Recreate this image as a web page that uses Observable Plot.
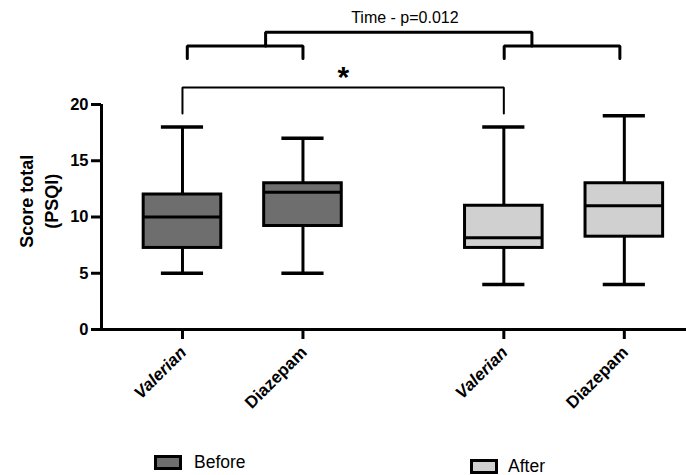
<!DOCTYPE html>
<html>
<head>
<meta charset="utf-8">
<script src="https://cdn.jsdelivr.net/npm/d3@7"></script>
<script src="https://cdn.jsdelivr.net/npm/@observablehq/plot@0.6"></script>
<style>
  html, body { margin: 0; padding: 0; background: #fff; }
  #wrap { position: relative; width: 686px; height: 475px; overflow: hidden; font-family: "Liberation Sans", Arial, sans-serif; color: #000; }
  #chart svg { display: block; overflow: visible; }
  .leg-sw { position: absolute; box-sizing: border-box; border: 3px solid #000; }
  .leg-tx { position: absolute; font-size: 17.5px; line-height: 17.5px; white-space: nowrap; }
</style>
</head>
<body>
<div id="wrap">
  <div id="chart"></div>
  <div id="legend"></div>
</div>
<script>
// ---- data ----
const groups    = ["Before", "Before", "After", "After"];
const drugs     = ["Valerian", "Diazepam", "Valerian", "Diazepam"];
const positions = [1, 2, 3.667, 4.667];
const mins      = [5, 5, 4, 4];
const q1s       = [7.25, 9.2, 7.25, 8.25];
const medians   = [10, 12.2, 8.15, 11];
const q3s       = [12, 13, 11, 13];
const maxs      = [18, 17, 18, 19];
const yTicks    = [0, 5, 10, 15, 20];
const legendGroups = ["Before", "After"];
const groupColors  = ["#6e6e6e", "#d0d0d0"];

// annotation brackets (x in category positions, y in score units)
const timeBracketLeft  = [[1.04, 24.1], [1.04, 25.2], [2.0, 25.2], [2.0, 24.1]];
const timeBracketTop   = [[1.69, 25.2], [1.69, 26.43], [3.9, 26.43], [3.9, 25.2]];
const timeBracketRight = [[3.67, 24.1], [3.67, 25.2], [4.63, 25.2], [4.63, 24.1]];
const starBracket      = [[1, 19.2], [1, 21.51], [3.667, 21.51], [3.667, 19.2]];
const timeLabel = [{x: 2.846, y: 27.74, text: "Time - p=0.012"}];
const starLabel = [{x: 2.336, y: 22.84, text: "*"}];
const yLabel = "Score total\n(PSQI)";

// ---- build rows ----
const rows = groups.map((g, i) => ({
  group: g, drug: drugs[i], pos: positions[i],
  min: mins[i], q1: q1s[i], median: medians[i], q3: q3s[i], max: maxs[i]
}));
const toPts = (arr, id) => arr.map(([x, y]) => ({id, x, y}));
const timeBrackets = [
  ...toPts(timeBracketLeft, "L"),
  ...toPts(timeBracketTop, "T"),
  ...toPts(timeBracketRight, "R")
];
const starPts = toPts(starBracket, "S");

const boxHalf = 0.322, capHalf = 0.175;
const xDomain = [0.328, 5.183];
const font = "Liberation Sans, Arial, sans-serif";

const plot = Plot.plot({
  width: 686,
  height: 440,
  marginLeft: 101,
  marginRight: 0,
  marginTop: 104,
  marginBottom: 111,
  style: {fontFamily: font, background: "#fff", color: "#000"},
  x: {type: "linear", domain: xDomain, axis: null},
  y: {domain: [0, 20], axis: null},
  color: {domain: legendGroups, range: groupColors},
  marks: [
    // axes
    Plot.axisY({ticks: yTicks, tickSize: 10, tickPadding: 3, strokeWidth: 3, fontSize: 16.5, fontWeight: "bold", label: null}),
    Plot.ruleX([xDomain[0]], {y1: 0, y2: 20, strokeWidth: 3}),
    Plot.axisX({ticks: positions, tickSize: 10, strokeWidth: 3, tickFormat: () => "", label: null}),
    Plot.ruleY([0], {x1: xDomain[0], x2: xDomain[1], strokeWidth: 3}),
    // x tick labels
    Plot.text(rows.filter(d => d.drug === "Valerian"), {x: "pos", y: 0, text: "drug", rotate: -45, textAnchor: "end", dx: 1, dy: 20, fontSize: 17, fontWeight: "bold", fontStyle: "italic"}),
    Plot.text(rows.filter(d => d.drug !== "Valerian"), {x: "pos", y: 0, text: "drug", rotate: -45, textAnchor: "end", dx: 1, dy: 20, fontSize: 17, fontWeight: "bold"}),
    // y label
    Plot.text([yLabel], {frameAnchor: "left", y: 11.4, dx: -64, text: d => d, textAnchor: "middle", rotate: -90, fontSize: 18, fontWeight: "bold", lineHeight: 1.38}),
    // whiskers
    Plot.ruleX(rows, {x: "pos", y1: "q3", y2: "max", strokeWidth: 3}),
    Plot.ruleX(rows, {x: "pos", y1: "min", y2: "q1", strokeWidth: 3}),
    Plot.ruleY(rows, {y: "max", x1: d => d.pos - capHalf, x2: d => d.pos + capHalf, strokeWidth: 3.5}),
    Plot.ruleY(rows, {y: "min", x1: d => d.pos - capHalf, x2: d => d.pos + capHalf, strokeWidth: 3.5}),
    // boxes
    Plot.rect(rows, {x1: d => d.pos - boxHalf, x2: d => d.pos + boxHalf, y1: "q1", y2: "q3", fill: "group", stroke: "#000", strokeWidth: 3}),
    Plot.ruleY(rows, {y: "median", x1: d => d.pos - boxHalf, x2: d => d.pos + boxHalf, strokeWidth: 3}),
    // annotations
    Plot.line(timeBrackets, {x: "x", y: "y", z: "id", stroke: "#000", strokeWidth: 3, curve: "linear", strokeLinejoin: "miter"}),
    Plot.line(starPts, {x: "x", y: "y", z: "id", stroke: "#000", strokeWidth: 2, strokeLinejoin: "miter"}),
    Plot.text(timeLabel, {x: "x", y: "y", text: "text", fontSize: 16}),
    Plot.text(starLabel, {x: "x", y: "y", text: "text", fontSize: 30, fontWeight: "bold", dy: 5})
  ]
});
document.getElementById("chart").appendChild(plot);

// ---- legend (below the SVG) ----
const legendLayout = [
  {sx: 154, sy: 455, tx: 194, ty: 454.2},
  {sx: 470, sy: 459, tx: 508, ty: 457.5}
];
const legend = document.getElementById("legend");
legendGroups.forEach((g, i) => {
  const L = legendLayout[i];
  const sw = document.createElement("div");
  sw.className = "leg-sw";
  Object.assign(sw.style, {left: L.sx + "px", top: L.sy + "px", width: "28px", height: "15px", background: groupColors[i]});
  legend.appendChild(sw);
  const tx = document.createElement("div");
  tx.className = "leg-tx";
  tx.textContent = g;
  Object.assign(tx.style, {left: L.tx + "px", top: L.ty + "px"});
  legend.appendChild(tx);
});
</script>
</body>
</html>
